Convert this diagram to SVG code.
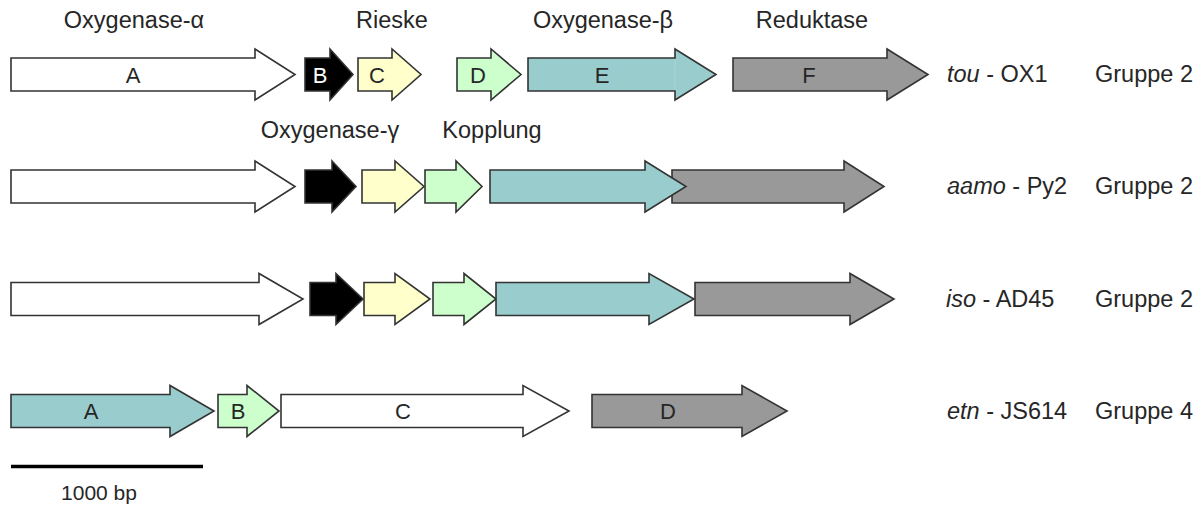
<svg xmlns="http://www.w3.org/2000/svg" width="1204" height="506" viewBox="0 0 1204 506">
<style>
.g{stroke:#333;stroke-width:1.6;stroke-linejoin:miter}
.w{fill:#fff}.k{fill:#000}.y{fill:#ffffcc}.gr{fill:#ccffcc}.t{fill:#99cccc}.d{fill:#999}
text{font-family:"Liberation Sans",Arial,sans-serif;fill:#262626}
.lab{font-size:23.5px}
.in{font-size:22px;text-anchor:middle}
.sp{font-size:21px}
</style>
<rect width="1204" height="506" fill="#fff"/>
<g id="headers">
<text class="lab" x="134" y="28" text-anchor="middle">Oxygenase-α</text>
<text class="lab" x="392" y="28" text-anchor="middle">Rieske</text>
<text class="lab" x="603" y="28" text-anchor="middle">Oxygenase-β</text>
<text class="lab" x="812" y="28" text-anchor="middle">Reduktase</text>
<text class="lab" x="330" y="138" text-anchor="middle">Oxygenase-γ</text>
<text class="lab" x="492" y="138" text-anchor="middle">Kopplung</text>
</g>
<g id="row1">
<g id="tou-A"><polygon class="g w" points="11,58 255,58 255,49 295,74.5 255,100 255,91 11,91"/><text class="in" x="133" y="83">A</text></g>
<g id="tou-B"><polygon class="g k" points="305,58 330,58 330,49 353,74.5 330,100 330,91 305,91"/><text class="in" x="320" y="83" style="fill:#fff">B</text></g>
<g id="tou-C"><polygon class="g y" points="358,58 392,58 392,49 421,74.5 392,100 392,91 358,91"/><text class="in" x="377" y="83">C</text></g>
<g id="tou-D"><polygon class="g gr" points="457,58 491,58 491,49 521,74.5 491,100 491,91 457,91"/><text class="in" x="478" y="83">D</text></g>
<g id="tou-E"><polygon class="g t" points="528,58 675,58 675,49 716,74.5 675,100 675,91 528,91"/><line x1="675" y1="59" x2="675" y2="90" stroke="#a9d4d4" stroke-width="1"/><text class="in" x="602" y="83">E</text></g>
<g id="tou-F"><polygon class="g d" points="733,58 887,58 887,49 928,74.5 887,100 887,91 733,91"/><text class="in" x="809" y="83">F</text></g>
<text class="lab" x="947" y="82"><tspan font-style="italic">tou</tspan> - OX1</text>
<text class="lab" x="1095" y="82">Gruppe 2</text>
</g>
<g id="row2">
<g id="aamo-A"><polygon class="g w" points="11,170 255,170 255,161 295,186.5 255,212 255,203 11,203"/></g>
<g id="aamo-B"><polygon class="g k" points="305,170 332,170 332,161 356,186.5 332,212 332,203 305,203"/></g>
<g id="aamo-C"><polygon class="g y" points="362,170 395,170 395,161 424,186.5 395,212 395,203 362,203"/></g>
<g id="aamo-D"><polygon class="g gr" points="425,170 456,170 456,161 482,186.5 456,212 456,203 425,203"/></g>
<g id="aamo-F"><polygon class="g d" points="672,170 844,170 844,161 884,186.5 844,212 844,203 672,203"/></g>
<g id="aamo-E"><polygon class="g t" points="490,170 645,170 645,161 686,186.5 645,212 645,203 490,203"/></g>
<text class="lab" x="947" y="194"><tspan font-style="italic">aamo</tspan> - Py2</text>
<text class="lab" x="1095" y="194">Gruppe 2</text>
</g>
<g id="row3">
<g id="iso-A"><polygon class="g w" points="11,282.5 259,282.5 259,273.5 303,299 259,324.5 259,315.5 11,315.5"/></g>
<g id="iso-B"><polygon class="g k" points="310,282.5 336,282.5 336,273.5 363,299 336,324.5 336,315.5 310,315.5"/></g>
<g id="iso-C"><polygon class="g y" points="364,282.5 395,282.5 395,273.5 430,299 395,324.5 395,315.5 364,315.5"/></g>
<g id="iso-D"><polygon class="g gr" points="433,282.5 464,282.5 464,273.5 496,299 464,324.5 464,315.5 433,315.5"/></g>
<g id="iso-E"><polygon class="g t" points="496,282.5 649,282.5 649,273.5 694,299 649,324.5 649,315.5 496,315.5"/></g>
<g id="iso-F"><polygon class="g d" points="695,282.5 850,282.5 850,273.5 894,299 850,324.5 850,315.5 695,315.5"/></g>
<text class="lab" x="946" y="307"><tspan font-style="italic">iso</tspan> - AD45</text>
<text class="lab" x="1095" y="307">Gruppe 2</text>
</g>
<g id="row4">
<g id="etn-A"><polygon class="g t" points="11,394.5 170,394.5 170,385.5 214,411 170,436.5 170,427.5 11,427.5"/><text class="in" x="91" y="419">A</text></g>
<g id="etn-B"><polygon class="g gr" points="218,394.5 247,394.5 247,385.5 279,411 247,436.5 247,427.5 218,427.5"/><text class="in" x="238" y="419">B</text></g>
<g id="etn-C"><polygon class="g w" points="281,394.5 523,394.5 523,385.5 569,411 523,436.5 523,427.5 281,427.5"/><text class="in" x="403" y="419">C</text></g>
<g id="etn-D"><polygon class="g d" points="592,394.5 742,394.5 742,385.5 787,411 742,436.5 742,427.5 592,427.5"/><text class="in" x="668" y="419">D</text></g>
<text class="lab" x="947" y="419"><tspan font-style="italic">etn</tspan> - JS614</text>
<text class="lab" x="1095" y="419">Gruppe 4</text>
</g>
<g id="scalebar">
<line x1="11" y1="466.5" x2="203" y2="466.5" stroke="#000" stroke-width="3.5"/>
<text class="sp" x="99" y="500" text-anchor="middle">1000 bp</text>
</g>
</svg>
